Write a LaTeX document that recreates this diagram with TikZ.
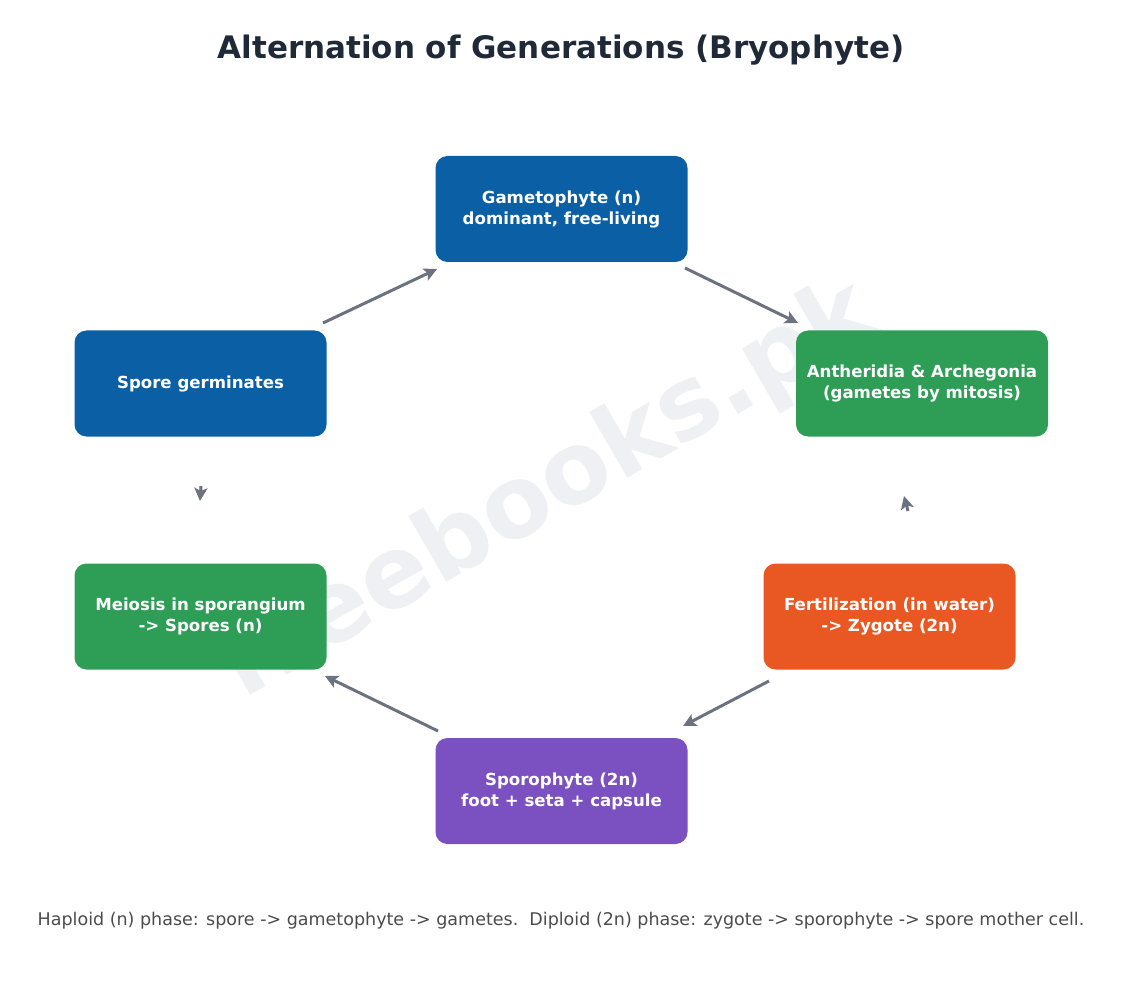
\documentclass[tikz,border=0pt]{standalone}
\usepackage{fontspec}
\setmainfont{DejaVu Sans}
\usetikzlibrary{arrows.meta}
\definecolor{cblue}{HTML}{0B5FA5}
\definecolor{cgreen}{HTML}{2E9E57}
\definecolor{corange}{HTML}{E95822}
\definecolor{cpurple}{HTML}{7B50C0}
\definecolor{carrow}{HTML}{6B7280}
\definecolor{ctitle}{HTML}{1F2937}
\definecolor{cfoot}{HTML}{4B4B4B}
\definecolor{cwm}{HTML}{EEF0F3}
\begin{document}
\begin{tikzpicture}[x=1pt,y=-1pt,
  box/.style={rounded corners=12pt,minimum width=252pt,minimum height=106pt,text=white,align=center,font=\fontsize{16.6}{21}\selectfont\bfseries,inner sep=0pt},
  arr/.style={draw=carrow,line width=3pt,-{Stealth[length=13pt,width=13pt,inset=3pt]}}]
\useasboundingbox (0,0) rectangle (1122,1000);
\node[rotate=30,text=cwm,font=\fontsize{100}{100}\selectfont\bfseries] (wm) at (548,492) {freebooks.pk};
\node[font=\fontsize{31}{36}\selectfont\bfseries,text=ctitle] (title) at (561,50) {Alternation of Generations (Bryophyte)};
\node[box,fill=cblue] (g) at (561.5,209) {Gametophyte (n)\\dominant, free-living};
\node[box,fill=cgreen] (a) at (922,383.5) {Antheridia \& Archegonia\\(gametes by mitosis)};
\node[box,fill=corange] (f) at (889.5,616.5) {Fertilization (in water)\\-> Zygote (2n)};
\node[box,fill=cpurple] (s) at (561.5,791) {Sporophyte (2n)\\foot + seta + capsule};
\node[box,fill=cgreen] (m) at (200.5,616.5) {Meiosis in sporangium\\-> Spores (n)};
\node[box,fill=cblue] (sg) at (200.5,383.5) {Spore germinates};
\coordinate (g1) at (685,268); \coordinate (a1) at (798,323);
\coordinate (a2) at (908,511); \coordinate (a3) at (904,496);
\coordinate (f1) at (769,681); \coordinate (s1) at (683,726);
\coordinate (s2) at (438,731); \coordinate (m1) at (325,676);
\coordinate (m2) at (201,486); \coordinate (sg1) at (200,501);
\coordinate (sg2) at (323,323); \coordinate (g2) at (437,269);
\draw[arr] (g1) -- (a1);
\draw[arr] (a2) -- (a3);
\draw[arr] (f1) -- (s1);
\draw[arr] (s2) -- (m1);
\draw[arr] (m2) -- (sg1);
\draw[arr] (sg2) -- (g2);
\node[font=\fontsize{17.5}{21}\selectfont,text=cfoot] (foot) at (561,921) {Haploid (n) phase: spore -> gametophyte -> gametes.\ \ Diploid (2n) phase: zygote -> sporophyte -> spore mother cell.};
\end{tikzpicture}
\end{document}
